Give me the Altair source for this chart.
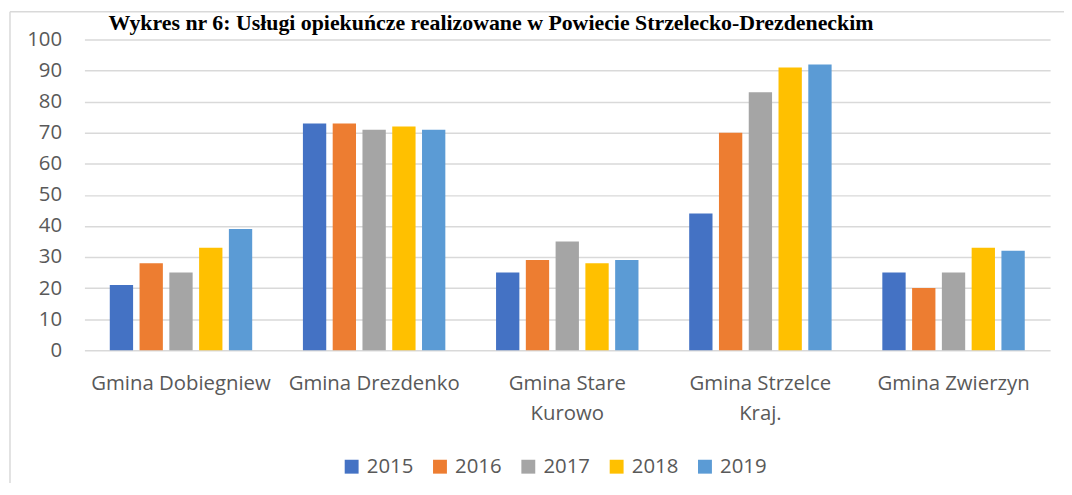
import altair as alt
import pandas as pd

# ---- data ----
categories = ["Gmina Dobiegniew", "Gmina Drezdenko", "Gmina Stare Kurowo",
              "Gmina Strzelce Kraj.", "Gmina Zwierzyn"]
years = ["2015", "2016", "2017", "2018", "2019"]
values_2015 = [21, 73, 25, 44, 25]
values_2016 = [28, 73, 29, 70, 20]
values_2017 = [25, 71, 35, 83, 25]
values_2018 = [33, 72, 28, 91, 33]
values_2019 = [39, 71, 29, 92, 32]
colors = ["#4472C4", "#ED7D31", "#A5A5A5", "#FFC000", "#5B9BD5"]
y_ticks = [0, 10, 20, 30, 40, 50, 60, 70, 80, 90, 100]
wrapped_labels = {
    "Gmina Stare Kurowo": ["Gmina Stare", "Kurowo"],
    "Gmina Strzelce Kraj.": ["Gmina Strzelce", "Kraj."],
}
title_text = "Wykres nr 6: Usługi opiekuńcze realizowane w Powiecie Strzelecko-Drezdeneckim"

series = [values_2015, values_2016, values_2017, values_2018, values_2019]
rows = [
    {"gmina": c, "rok": y, "wartosc": v}
    for y, vals in zip(years, series)
    for c, v in zip(categories, vals)
]
df = pd.DataFrame(rows)

label_expr = ""
for k, parts in wrapped_labels.items():
    arr = "[" + ", ".join("'" + p + "'" for p in parts) + "]"
    label_expr += f"datum.value == '{k}' ? {arr} : "
label_expr += "datum.value"

FONT = "Open Sans"
FS = 20.5
TXT = "#595959"
GRID = "#d9d9d9"

bars = alt.Chart(df).mark_bar().encode(
    x=alt.X(
        "gmina:N", sort=categories,
        scale=alt.Scale(paddingInner=0.2626, paddingOuter=0.1313),
        axis=alt.Axis(title=None, labelAngle=0, labelExpr=label_expr,
                      labelFont=FONT, labelFontSize=FS, labelColor=TXT,
                      labelPadding=24, labelLineHeight=30, domain=False,
                      ticks=False, labelLimit=400, labelOverlap=False),
    ),
    xOffset=alt.XOffset("rok:N", sort=years,
                        scale=alt.Scale(paddingInner=0.217, paddingOuter=0)),
    y=alt.Y(
        "wartosc:Q",
        scale=alt.Scale(domain=[0, 100], nice=False),
        axis=alt.Axis(title=None, values=y_ticks, grid=True, gridColor=GRID,
                      gridWidth=1.5, domain=False, ticks=False, labelPadding=23,
                      labelFont=FONT, labelFontSize=FS, labelColor=TXT),
    ),
    color=alt.Color(
        "rok:N", sort=years,
        scale=alt.Scale(domain=years, range=colors),
        legend=alt.Legend(title=None, orient="none", legendX=259, legendY=420,
                          direction="horizontal", symbolType="square",
                          symbolSize=196, symbolStrokeWidth=0, symbolOpacity=1,
                          labelFont=FONT, labelFontSize=FS, labelColor=TXT,
                          labelOffset=5, columnPadding=16, padding=0),
    ),
)

one = pd.DataFrame({"t": [title_text]})
title = alt.Chart(one).mark_text(
    align="right", baseline="alphabetic", font="Liberation Serif",
    fontWeight="bold", fontSize=22, color="black"
).encode(x=alt.value(795), y=alt.value(-10), text="t:N")

frame = pd.DataFrame({"k": [0]})
top_line = alt.Chart(frame).mark_rule(color=GRID, strokeWidth=1.5).encode(
    x=alt.value(-75), x2=alt.value(1100), y=alt.value(-28))
left_line = alt.Chart(frame).mark_rule(color=GRID, strokeWidth=1.5).encode(
    x=alt.value(-75), y=alt.value(-28), y2=alt.value(600))

chart = alt.layer(left_line, top_line, bars, title).properties(
    width=973, height=313,
    autosize=alt.AutoSizeParams(type="none"),
    padding={"left": 77, "top": 30, "right": 14, "bottom": 132},
).configure_view(stroke=None)

chart.save("out.html", embed_options={"renderer": "svg", "actions": False})
